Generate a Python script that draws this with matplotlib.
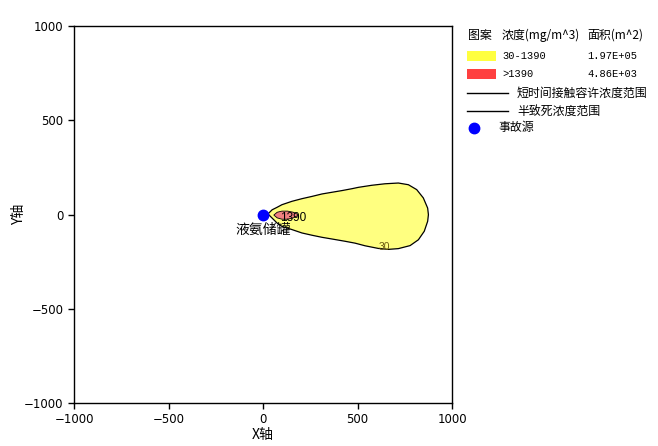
import numpy as np
import matplotlib.pyplot as plt
from matplotlib.patches import Rectangle
from matplotlib.lines import Line2D

plt.rcParams['font.family'] = ['Noto Sans CJK SC', 'DejaVu Sans']
plt.rcParams['font.size'] = 9
plt.rcParams['axes.unicode_minus'] = True

# outline of the 30 mg/m^3 zone
up_x = [26, 48, 74, 100, 153, 206, 259, 312, 365, 418, 471, 504, 575, 645, 716, 769, 813, 848, 871, 875]
up_y = [3, 25, 38, 52, 70, 84, 96, 109, 118, 127, 137, 144, 155, 163, 167, 158, 132, 88, 34, -1]
lo_x = [26, 48, 74, 100, 153, 206, 259, 312, 365, 434, 487, 540, 610, 663, 716, 778, 822, 853, 871, 875]
lo_y = [3, -19, -45, -63, -80, -98, -110, -121, -130, -142, -152, -166, -180, -185, -181, -165, -134, -89, -36, -1]

# outline of the 1390 mg/m^3 zone
core_x = [57, 75, 100, 130, 160, 185]
core_up = [-3, 12, 18, 18, 12, 0]
core_lo = [-3, -18, -25, -25, -18, -5]

source_xy = (0, 0)
source_name = "液氨储罐"

legend_head = ["图案", "浓度(mg/m^3)", "面积(m^2)"]
legend_ranges = ["30-1390", ">1390"]
legend_areas = ["1.97E+05", "4.86E+03"]
legend_colors = ["#FFFF40", "#FF4040"]
legend_lines = ["短时间接触容许浓度范围", "半致死浓度范围"]
legend_src = "事故源"

fig = plt.figure(figsize=(6.58, 4.46), dpi=100)
ax = fig.add_axes([0.1125, 0.0964, 0.5745, 0.8453])

# outer zone
px = up_x + lo_x[::-1]
py = up_y + lo_y[::-1]
ax.fill(px, py, facecolor="#FFFF80", edgecolor="black", linewidth=0.9, zorder=2)

# inner zone
cx = core_x + core_x[::-1]
cy = core_up + core_lo[::-1]
ax.fill(cx, cy, facecolor="#F08080", edgecolor="black", linewidth=0.6, zorder=3)

ax.text(159, -19, "1390", fontsize=8.5, family="Liberation Sans",
        ha="center", va="center", zorder=5)
ax.text(640, -170, "30", fontsize=7.5, family="Liberation Sans", ha="center",
        va="center", color="#6b5a10", zorder=5)

# accident source
ax.plot(*source_xy, "o", color="blue", markersize=7.5, zorder=6)
ax.text(source_xy[0], source_xy[1] - 80, source_name, ha="center", va="center",
        fontsize=10, zorder=6)

ax.set_xlim(-1000, 1000)
ax.set_ylim(-1000, 1000)
ax.set_xticks([-1000, -500, 0, 500, 1000])
ax.set_yticks([-1000, -500, 0, 500, 1000])
ax.tick_params(direction="out", length=4, width=1, labelsize=8.5)
for lab in ax.get_xticklabels() + ax.get_yticklabels():
    lab.set_family("DejaVu Sans")
for s in ax.spines.values():
    s.set_linewidth(1)
ax.set_xlabel("X轴", fontsize=10, labelpad=1)

## legend drawn by hand at the right side
W, H = 658, 446
def fx(p):
    return p / W
def fy(p):
    return 1 - p / H

fig.text(fx(19), fy(214), "Y轴", rotation=90, ha="center", va="center", fontsize=10)

fig.text(fx(468), fy(35), legend_head[0], va="center", fontsize=8.6)
fig.text(fx(502), fy(35), legend_head[1], va="center", fontsize=8.6)
fig.text(fx(587), fy(35), legend_head[2], va="center", fontsize=8.6)
mono = ["Liberation Mono", "Noto Sans CJK SC"]
rows_y = [56, 74]
for i in range(2):
    fig.add_artist(Rectangle((fx(467), fy(rows_y[i] + 5)), 29 / W, 10 / H,
                             facecolor=legend_colors[i], edgecolor="none",
                             transform=fig.transFigure))
    fig.text(fx(502), fy(rows_y[i]), legend_ranges[i], va="center", fontsize=7.5,
             family=mono)
    fig.text(fx(587), fy(rows_y[i]), legend_areas[i], va="center", fontsize=7.5,
             family=mono)
lines_y = [93, 111]
for i in range(2):
    fig.add_artist(Line2D([fx(467), fx(508)], [fy(lines_y[i]), fy(lines_y[i])],
                          color="black", linewidth=1, transform=fig.transFigure))
    fig.text(fx(517), fy(lines_y[i]), legend_lines[i], va="center", fontsize=8.6)
fig.add_artist(Line2D([fx(474)], [fy(128)], marker="o", color="blue", markersize=7.5,
                      transform=fig.transFigure))
fig.text(fx(498), fy(128), legend_src, va="center", fontsize=8.6)

fig.savefig("out.png", dpi=100)
